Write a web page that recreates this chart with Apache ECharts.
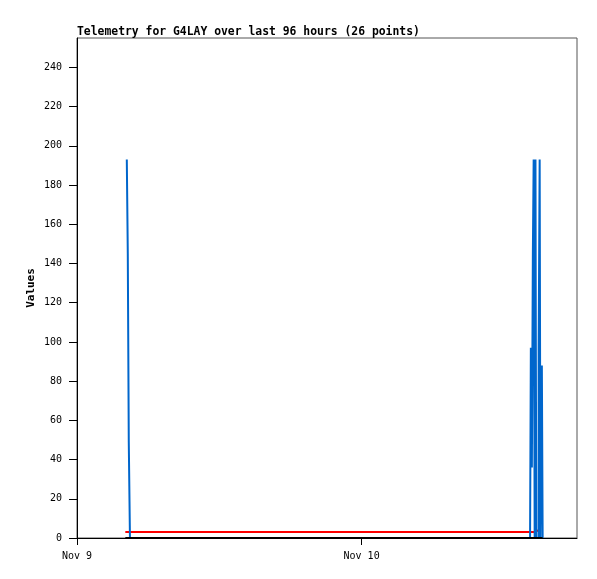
<!DOCTYPE html>
<html>
<head>
<meta charset="utf-8">
<script src="https://cdn.jsdelivr.net/npm/echarts@6/dist/echarts.min.js"></script>
<style>html,body{margin:0;padding:0;background:#fff;}#c{width:597px;height:579px;}</style>
</head>
<body>
<div id="c"></div>
<script>
// Data
const titleText = 'Telemetry for G4LAY over last 96 hours (26 points)';
const yAxisName = 'Values';
const yTicks = [0, 20, 40, 60, 80, 100, 120, 140, 160, 180, 200, 220, 240];
const xStart = '2023-11-09T00:00:00Z';
const xEnd = '2023-11-10T18:10:00Z';

const blueTimes = ['2023-11-09T04:12:00Z','2023-11-09T04:17:00Z','2023-11-09T04:22:00Z','2023-11-09T04:28:00Z',
  '2023-11-10T14:12:30Z','2023-11-10T14:16:30Z','2023-11-10T14:21:36Z','2023-11-10T14:26:40Z','2023-11-10T14:30:45Z',
  '2023-11-10T14:35:50Z','2023-11-10T14:39:50Z','2023-11-10T14:43:55Z','2023-11-10T14:56:00Z','2023-11-10T15:01:05Z',
  '2023-11-10T15:05:05Z','2023-11-10T15:12:10Z','2023-11-10T15:16:15Z'];
const blueValues = [193, 145, 49, 0, 0, 97, 36, 145, 193, 0, 193, 0, 97, 193, 0, 88, 0];

const redTimes = ['2023-11-09T04:04:30Z','2023-11-10T14:36:50Z','2023-11-10T14:56:00Z'];
const redValues = [3, 4, 4];

const blackTimes = ['2023-11-09T04:04:30Z','2023-11-10T15:16:00Z'];
const blackValues = [0, 0];

const DAY = 86400000;
const MONTHS = ['Jan','Feb','Mar','Apr','May','Jun','Jul','Aug','Sep','Oct','Nov','Dec'];
function pairs(ts, vs) { return ts.map((t, i) => [Date.parse(t), vs[i]]); }

const font = '"DejaVu Sans Mono", "Liberation Mono", monospace';
const chart = echarts.init(document.getElementById('c'));
chart.setOption({
  animation: false,
  backgroundColor: '#fff',
  title: {
    text: titleText, left: 72, top: 22,
    textStyle: { fontFamily: font, fontSize: 11.4, fontWeight: 'bold', color: '#000' }
  },
  grid: { left: 77, top: 38, width: 500, height: 500, show: true, borderColor: '#555', borderWidth: 1, backgroundColor: 'transparent' },
  xAxis: {
    type: 'value',
    min: Date.parse(xStart), max: Date.parse(xEnd), interval: DAY,
    axisLine: { lineStyle: { color: '#000', width: 1 } },
    axisTick: { length: 7, lineStyle: { color: '#000' } },
    splitLine: { show: false },
    axisLabel: {
      showMaxLabel: false, margin: 13,
      fontFamily: font, fontSize: 10, color: '#000',
      formatter: v => { const d = new Date(v); return MONTHS[d.getUTCMonth()] + ' ' + d.getUTCDate(); }
    }
  },
  yAxis: {
    type: 'value', min: 0, max: 255, interval: 20,
    name: yAxisName, nameLocation: 'middle', nameGap: 40, nameRotate: 90, nameMoveOverlap: false,
    nameTextStyle: { fontFamily: font, fontSize: 11, fontWeight: 'bold', color: '#000' },
    axisLine: { show: true, lineStyle: { color: '#000', width: 1 } },
    axisTick: { show: true, length: 8, customValues: yTicks, lineStyle: { color: '#000' } },
    splitLine: { show: false },
    axisLabel: { customValues: yTicks, margin: 15, fontFamily: font, fontSize: 10, color: '#000' }
  },
  series: [
    { type: 'line', step: 'end', data: pairs(redTimes, redValues), showSymbol: false, z: 2,
      lineStyle: { color: '#ff0000', width: 2 } },
    { type: 'line', step: 'end', data: pairs(blueTimes, blueValues), showSymbol: false, z: 3,
      lineStyle: { color: '#0066cc', width: 2 } },
    { type: 'line', data: pairs(blackTimes, blackValues), showSymbol: false, z: 4,
      lineStyle: { color: '#000', width: 2 } }
  ]
});
</script>
</body>
</html>
